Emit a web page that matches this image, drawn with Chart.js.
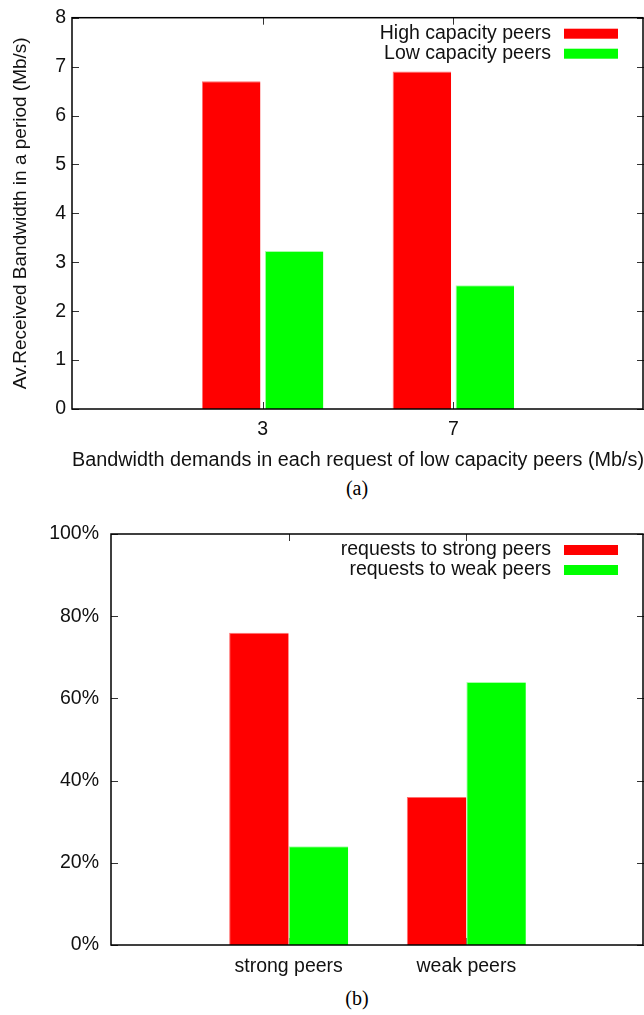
<!DOCTYPE html>
<html>
<head>
<meta charset="utf-8">
<script src="https://cdn.jsdelivr.net/npm/chart.js@4.4.0/dist/chart.umd.min.js"></script>
<style>
  body { margin: 0; background: #fff; overflow: hidden; }
  .wrap { position: absolute; left: 0; width: 644px; }
  .caption { position: absolute; left: 70px; width: 574px; text-align: center;
             font-family: "Liberation Serif", "DejaVu Serif", serif; font-size: 20px; color: #000; }
</style>
</head>
<body>
<div class="wrap" style="top:0; height:476px"><canvas id="demandChart"></canvas></div>
<div class="caption" style="top:477px">(a)</div>
<div class="wrap" style="top:506px; height:480px"><canvas id="requestChart"></canvas></div>
<div class="caption" style="top:987px">(b)</div>

<script>
// bandwidth per demand level (empty slots pad the axis on both sides)
const demandLabels = ['', '3', '7', ''];
const highCapacity = [null, 6.7, 6.9, null];
const lowCapacity = [null, 3.23, 2.53, null];

// share of requests by peer type
const peerLabels = ['', 'strong peers', 'weak peers', ''];
const toStrong = [null, 76, 36, null];
const toWeak = [null, 24, 64, null];

const RED = '#ff0000';
const GREEN = '#00ff00';
const FONT = 'Liberation Sans';
const INK = '#111';
const TEXT_SIZE = 19.5;

Chart.defaults.font.family = FONT;
Chart.defaults.color = INK;
Chart.defaults.animation = false;

// gnuplot style box: frame plus short inward ticks on all four sides
const framePlugin = {
  id: 'frame',
  beforeDatasetsDraw(chart) {
    const { ctx, chartArea: a, scales: { x, y } } = chart;
    ctx.save();
    ctx.strokeStyle = '#333';
    ctx.lineWidth = 1;
    ctx.beginPath();
    y.ticks.forEach((t, i) => {
      const py = Math.round(y.getPixelForTick(i)) + 0.5;
      ctx.moveTo(a.left, py); ctx.lineTo(a.left + 7, py);
      ctx.moveTo(a.right, py); ctx.lineTo(a.right - 7, py);
    });
    x.ticks.forEach((t, i) => {
      if (!t.label) return;
      const px = Math.round(x.getPixelForTick(i)) + 0.5;
      ctx.moveTo(px, a.bottom); ctx.lineTo(px, a.bottom - 7);
      ctx.moveTo(px, a.top); ctx.lineTo(px, a.top + 7);
    });
    ctx.stroke();
    ctx.restore();
  },
  afterDatasetsDraw(chart) {
    const { ctx, chartArea: a } = chart;
    ctx.save();
    ctx.strokeStyle = '#000';
    ctx.lineWidth = 1.5;
    ctx.strokeRect(a.left, a.top, a.right - a.left - 1, a.bottom - a.top);
    ctx.restore();
  }
};

// key in the top right corner: text first, colour swatch after it
const keyPlugin = {
  id: 'key',
  afterDatasetsDraw(chart, args, opts) {
    const { ctx, chartArea: a } = chart;
    ctx.save();
    ctx.font = TEXT_SIZE + 'px ' + FONT;
    ctx.textAlign = 'right';
    ctx.textBaseline = 'middle';
    chart.data.datasets.forEach((ds, i) => {
      const cy = a.top + opts.first + i * opts.step;
      ctx.fillStyle = INK;
      ctx.fillText(ds.label, a.right - 93, cy);
      ctx.fillStyle = ds.backgroundColor;
      ctx.fillRect(a.right - 80, cy - 5, 54, 10);
    });
    ctx.restore();
  }
};

function makeChart(id, labels, sets, cfg) {
  return new Chart(document.getElementById(id), {
    type: 'bar',
    data: {
      labels: labels,
      datasets: sets.map(s => ({
        label: s.label,
        data: s.data,
        backgroundColor: s.color,
        borderColor: s.edge,
        borderWidth: { left: 1, top: 1, right: 0, bottom: 0 },
        categoryPercentage: cfg.catPct,
        barPercentage: cfg.barPct
      }))
    },
    options: {
      responsive: true,
      maintainAspectRatio: false,
      layout: { padding: { top: cfg.padTop, right: 0, left: 0, bottom: 0 } },
      plugins: {
        legend: { display: false },
        tooltip: { enabled: false },
        key: { first: 16, step: 20 }
      },
      scales: {
        x: {
          offset: false,
          grid: { display: false, drawTicks: false },
          border: { display: false },
          ticks: { font: { size: TEXT_SIZE }, padding: cfg.xPad, maxRotation: 0, autoSkip: false },
          title: cfg.xTitle
            ? { display: true, text: cfg.xTitle, font: { size: 20 }, padding: { top: 8, bottom: 4 } }
            : { display: false },
          afterFit: s => {
            s.height = cfg.xHeight;
            s.paddingLeft = 0;
            s.paddingRight = 0;
          }
        },
        y: {
          min: 0,
          max: cfg.yMax,
          grid: { display: false, drawTicks: false },
          border: { display: false },
          ticks: {
            stepSize: cfg.yStep,
            font: { size: TEXT_SIZE },
            padding: cfg.yPad,
            callback: cfg.yFormat
          },
          title: cfg.yTitle
            ? { display: true, text: cfg.yTitle, font: { size: 19 }, padding: { top: 9, bottom: 0 } }
            : { display: false },
          afterFit: s => { s.width = cfg.yWidth; }
        }
      }
    },
    plugins: [framePlugin, keyPlugin]
  });
}

makeChart('demandChart', demandLabels, [
  { label: 'High capacity peers', data: highCapacity, color: RED, edge: '#ff7070' },
  { label: 'Low capacity peers', data: lowCapacity, color: GREEN, edge: '#a8ffa8' }
], {
  catPct: 0.66, barPct: 0.93, padTop: 17, yMax: 8, yStep: 1,
  yFormat: v => v,
  yTitle: 'Av.Received Bandwidth in a period (Mb/s)',
  xTitle: 'Bandwidth demands in each request of low capacity peers (Mb/s)',
  yWidth: 72, xHeight: 67, xPad: 9, yPad: 6
});

makeChart('requestChart', peerLabels, [
  { label: 'requests to strong peers', data: toStrong, color: RED, edge: '#ff7070' },
  { label: 'requests to weak peers', data: toWeak, color: GREEN, edge: '#a8ffa8' }
], {
  catPct: 0.67, barPct: 1, padTop: 28, yMax: 100, yStep: 20,
  yFormat: v => v + '%',
  yTitle: null, xTitle: null,
  yWidth: 111, xHeight: 41, xPad: 10, yPad: 12
});
</script>
</body>
</html>
